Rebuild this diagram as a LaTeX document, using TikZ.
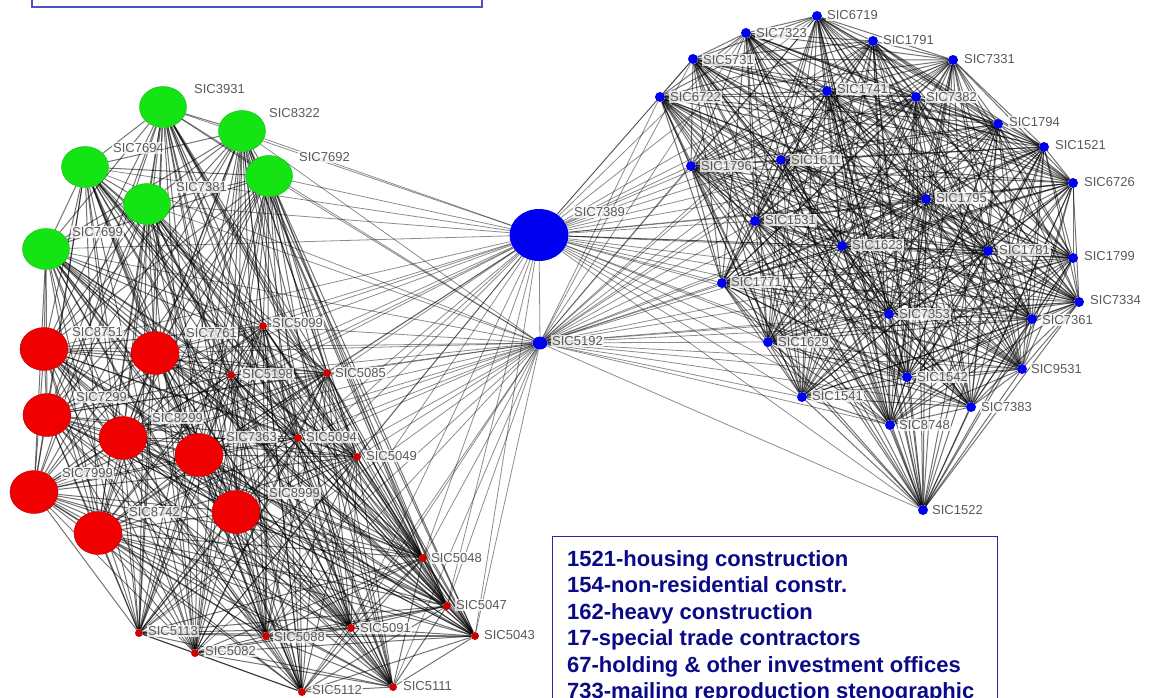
\documentclass[tikz,border=0pt]{standalone}
\usepackage{fontspec}
\setmainfont{Liberation Sans}
\usetikzlibrary{shapes.geometric}
\definecolor{nodegreen}{RGB}{20,228,20}
\definecolor{nodered}{RGB}{240,0,0}
\definecolor{nodeblue}{RGB}{0,0,240}
\definecolor{boxblue}{RGB}{80,80,195}
\definecolor{legendblue}{RGB}{40,40,160}
\definecolor{legendtext}{RGB}{10,10,135}
\definecolor{labelgray}{RGB}{90,90,90}
\pgfdeclarelayer{paper}
\pgfdeclarelayer{edges}
\pgfsetlayers{paper,edges,main}
\tikzset{
  bigg/.style={ellipse, minimum width=47pt, minimum height=41pt, inner sep=0pt,
    fill=nodegreen, draw=nodegreen!80!black, line width=0.4pt},
  bigr/.style={ellipse, minimum width=48pt, minimum height=43pt, inner sep=0pt,
    fill=nodered, draw=nodered!75!black, line width=0.4pt},
  smallr/.style={circle, minimum size=8pt, inner sep=0pt, fill=nodered!85!black},
  smallb/.style={circle, minimum size=10pt, inner sep=0pt, fill=nodeblue},
  hub/.style={ellipse, minimum width=59pt, minimum height=52pt, inner sep=0pt, fill=nodeblue},
  midhub/.style={ellipse, minimum width=15pt, minimum height=13pt, inner sep=0pt, fill=nodeblue},
  lbl/.style={anchor=west, inner sep=1pt, text=labelgray,
    font=\fontsize{13}{14}\selectfont, fill=white, fill opacity=0.75, text opacity=1},
  link/.style={draw=black, line width=1pt, draw opacity=0.55},
  fan/.style={draw=black, line width=0.8pt, draw opacity=0.45},
  legendline/.style={anchor=base west, inner sep=0pt, text=legendtext,
    font=\fontsize{22}{26}\selectfont\bfseries},
}
\begin{document}
\begin{tikzpicture}[x=1pt,y=-1pt]
\useasboundingbox (0,0) rectangle (1156,698);
\begin{pgfonlayer}{paper}
  \fill[white] (0,0) rectangle (1156,698);
\end{pgfonlayer}

% ---------- left cluster: services (green / red) and wholesale (small red)
\node[bigg] (g1) at (163,107) {};
\node[bigg] (g2) at (242,131) {};
\node[bigg] (g3) at (85,167) {};
\node[bigg] (g4) at (147,204) {};
\node[bigg] (g5) at (269,176) {};
\node[bigg] (g6) at (46,249) {};
\node[bigr] (r1) at (44,349) {};
\node[bigr] (r2) at (155,353) {};
\node[bigr] (r3) at (47,415) {};
\node[bigr] (r4) at (123,438) {};
\node[bigr] (r5) at (199,455) {};
\node[bigr] (r6) at (34,492) {};
\node[bigr] (r7) at (98,533) {};
\node[bigr] (r8) at (236,512) {};
\node[smallr] (s1) at (263,326) {};
\node[smallr] (s2) at (231,375) {};
\node[smallr] (s3) at (327,373) {};
\node[smallr] (s4) at (298,438) {};
\node[smallr] (s5) at (357,457) {};
\node[smallr] (s6) at (423,558) {};
\node[smallr] (s7) at (447,606) {};
\node[smallr] (s8) at (475,636) {};
\node[smallr] (s9) at (351,628) {};
\node[smallr] (s10) at (266,636) {};
\node[smallr] (s11) at (139,633) {};
\node[smallr] (s12) at (195,653) {};
\node[smallr] (s13) at (302,692) {};
\node[smallr] (s14) at (393,687) {};

% ---------- hubs
\node[hub] (h1) at (539,235) {};
\node[midhub] (h2) at (540,343) {};

% ---------- right cluster: construction and related
\node[smallb] (a6719) at (817,16) {};
\node[smallb] (a7323) at (746,33) {};
\node[smallb] (a1791) at (873,41) {};
\node[smallb] (a5731) at (693,59) {};
\node[smallb] (a7331) at (953,60) {};
\node[smallb] (a6722) at (660,97) {};
\node[smallb] (a1741) at (827,91) {};
\node[smallb] (a7382) at (916,97) {};
\node[smallb] (a1794) at (998,124) {};
\node[smallb] (a1521) at (1044,147) {};
\node[smallb] (a6726) at (1073,183) {};
\node[smallb] (a1796) at (691,166) {};
\node[smallb] (a1611) at (781,160) {};
\node[smallb] (a1795) at (926,199) {};
\node[smallb] (a1531) at (755,221) {};
\node[smallb] (a1623) at (842,246) {};
\node[smallb] (a1781) at (988,251) {};
\node[smallb] (a1799) at (1073,258) {};
\node[smallb] (a1771) at (722,283) {};
\node[smallb] (a7334) at (1079,302) {};
\node[smallb] (a7353) at (889,314) {};
\node[smallb] (a7361) at (1032,319) {};
\node[smallb] (a1629) at (768,342) {};
\node[smallb] (a9531) at (1022,369) {};
\node[smallb] (a1542) at (907,377) {};
\node[smallb] (a1541) at (802,397) {};
\node[smallb] (a7383) at (971,407) {};
\node[smallb] (a8748) at (890,425) {};
\node[smallb] (a1522) at (923,510) {};

\def\leftset{g1,g2,g3,g4,g5,g6,r1,r2,r3,r4,r5,r6,r7,r8,s1,s2,s3,s4,s5,s6,s7,s8,s9,s10,s11,s12,s13,s14}
\def\leftupper{g1,g2,g3,g4,g5,g6,r1,r2,r3,r4,r5,r6,r7,r8,s1,s2,s3,s4,s5,s6,s7,s8,s9,s10,s11,s12}
\def\rightset{a6719,a7323,a1791,a5731,a7331,a6722,a1741,a7382,a1794,a1521,a6726,a1796,a1611,a1795,a1531,a1623,a1781,a1799,a1771,a7334,a7353,a7361,a1629,a9531,a1542,a1541,a7383,a8748,a1522}

% ---------- links
\begin{pgfonlayer}{edges}
  \foreach \a [count=\i] in \leftset {
    \foreach \b [count=\j] in \leftset {
      \ifnum\j>\i \draw[link] (\a) -- (\b); \fi
    }
  }
  \foreach \a [count=\i] in \rightset {
    \foreach \b [count=\j] in \rightset {
      \ifnum\j>\i \draw[link] (\a) -- (\b); \fi
    }
  }
  \foreach \a in \leftupper { \draw[fan] (h1) -- (\a); }
  \foreach \a in \leftset { \draw[fan] (h2) -- (\a); }
  \foreach \a in \rightset { \draw[fan] (h1) -- (\a); \draw[fan] (h2) -- (\a); }
  \draw[fan] (h1) -- (h2);
\end{pgfonlayer}

% ---------- labels, left
\node[lbl] (lg1) at (193,89) {SIC3931};
\node[lbl] (lg2) at (268,113) {SIC8322};
\node[lbl] (lg5) at (298,157) {SIC7692};
\node[lbl] (lg3) at (112,148) {SIC7694};
\node[lbl] (lg4) at (175,187) {SIC7381};
\node[lbl] (lg6) at (71,232) {SIC7699};
\node[lbl] (lr1) at (71,332) {SIC8751};
\node[lbl] (lr2) at (185,333) {SIC7761};
\node[lbl] (lr3) at (75,397) {SIC7299};
\node[lbl] (lr4) at (151,418) {SIC8299};
\node[lbl] (lr5) at (225,437) {SIC7363};
\node[lbl] (lr6) at (61,473) {SIC7999};
\node[lbl] (lr7) at (128,512) {SIC8742};
\node[lbl] (lr8) at (268,493) {SIC8999};
\node[lbl] (ls1) at (271,323) {SIC5099};
\node[lbl] (ls2) at (241,374) {SIC5198};
\node[lbl] (ls3) at (334,373) {SIC5085};
\node[lbl] (ls4) at (305,437) {SIC5094};
\node[lbl] (ls5) at (365,456) {SIC5049};
\node[lbl] (ls6) at (430,558) {SIC5048};
\node[lbl] (ls7) at (455,605) {SIC5047};
\node[lbl] (ls8) at (483,635) {SIC5043};
\node[lbl] (ls9) at (359,628) {SIC5091};
\node[lbl] (ls10) at (273,637) {SIC5088};
\node[lbl] (ls11) at (147,631) {SIC5113};
\node[lbl] (ls12) at (204,651) {SIC5082};
\node[lbl] (ls13) at (311,690) {SIC5112};
\node[lbl] (ls14) at (402,686) {SIC5111};

% ---------- labels, hubs
\node[lbl] (lh1) at (573,212) {SIC7389};
\node[lbl] (lh2) at (551,341) {SIC5192};

% ---------- labels, right
\node[lbl] at (826,15) {SIC6719};
\node[lbl] at (755,33) {SIC7323};
\node[lbl] at (882,40) {SIC1791};
\node[lbl] at (702,60) {SIC5731};
\node[lbl] at (963,59) {SIC7331};
\node[lbl] at (669,97) {SIC6722};
\node[lbl] at (836,89) {SIC1741};
\node[lbl] at (925,97) {SIC7382};
\node[lbl] at (1008,122) {SIC1794};
\node[lbl] at (1054,145) {SIC1521};
\node[lbl] at (1083,182) {SIC6726};
\node[lbl] at (700,166) {SIC1796};
\node[lbl] at (790,160) {SIC1611};
\node[lbl] at (935,198) {SIC1795};
\node[lbl] at (764,220) {SIC1531};
\node[lbl] at (851,245) {SIC1623};
\node[lbl] at (998,250) {SIC1781};
\node[lbl] at (1083,256) {SIC1799};
\node[lbl] at (730,282) {SIC1771};
\node[lbl] at (1089,300) {SIC7334};
\node[lbl] at (898,314) {SIC7353};
\node[lbl] at (1041,320) {SIC7361};
\node[lbl] at (777,342) {SIC1629};
\node[lbl] at (1030,369) {SIC9531};
\node[lbl] at (916,377) {SIC1542};
\node[lbl] at (811,396) {SIC1541};
\node[lbl] at (980,407) {SIC7383};
\node[lbl] at (898,425) {SIC8748};
\node[lbl] at (931,510) {SIC1522};

% ---------- title frame (top) and legend
\draw[boxblue, line width=1.8pt] (32,-10) rectangle (482,7);
\draw[legendblue, line width=1pt, fill=white] (552,536) rectangle (997,710);
\node[legendline] (t1) at (567,566) {1521-housing construction};
\node[legendline] (t2) at (567,592.5) {154-non-residential constr.};
\node[legendline] (t3) at (567,619) {162-heavy construction};
\node[legendline] (t4) at (567,645.5) {17-special trade contractors};
\node[legendline] (t5) at (567,672) {67-holding \& other investment offices};
\node[legendline] (t6) at (567,698.5) {733-mailing reproduction stenographic};
\end{tikzpicture}
\end{document}
